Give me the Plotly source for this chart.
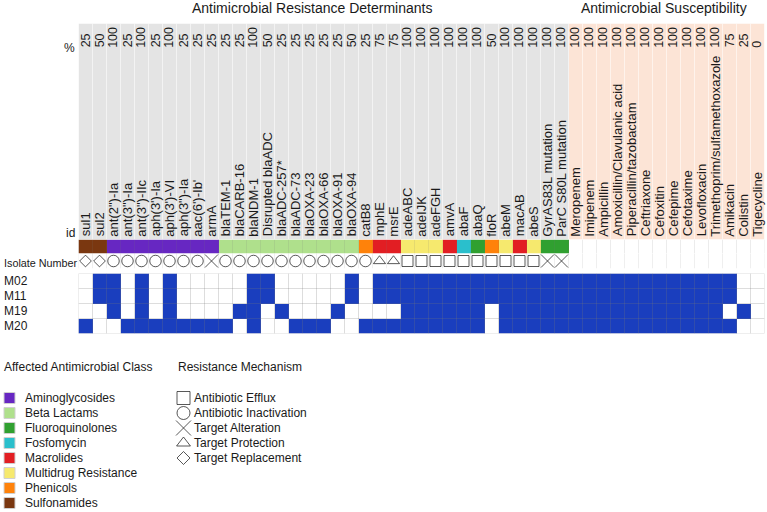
import plotly.graph_objects as go

W, H = 767, 512

# ---------------- data ----------------
determinants = ["sul1", "sul2", "ant(2\")-Ia", "ant(3\")-Ia", "ant(3\")-IIc", "aph(3')-Ia", "aph(3')-VI",
                "aph(3\")-Ia", "aac(6')-Ib'", "armA", "blaTEM-1", "blaCARB-16", "blaNDM-1", "Disrupted blaADC",
                "blaADC-257*", "blaADC-73", "blaOXA-23", "blaOXA-66", "blaOXA-91", "blaOXA-94", "catB8", "mphE",
                "msrE", "adeABC", "adeIJK", "adeFGH", "amvA", "abaF", "abaQ", "floR", "abeM", "macAB", "abeS",
                "GyrAS83L mutation", "ParC S80L mutation"]
det_percent = [25, 50, 100, 25, 100, 25, 100, 25, 25, 25,
               25, 25, 100, 50, 25, 25, 25, 25, 25, 50,
               25, 75, 75, 100, 100, 100, 100, 100, 100, 50,
               100, 100, 100, 100, 100]
det_class = ["Sulfonamides", "Sulfonamides",
             "Aminoglycosides", "Aminoglycosides", "Aminoglycosides", "Aminoglycosides",
             "Aminoglycosides", "Aminoglycosides", "Aminoglycosides", "Aminoglycosides",
             "Beta Lactams", "Beta Lactams", "Beta Lactams", "Beta Lactams", "Beta Lactams",
             "Beta Lactams", "Beta Lactams", "Beta Lactams", "Beta Lactams", "Beta Lactams",
             "Phenicols", "Macrolides", "Macrolides", "Multidrug Resistance", "Multidrug Resistance",
             "Multidrug Resistance", "Macrolides", "Fosfomycin", "Fluoroquinolones", "Phenicols",
             "Multidrug Resistance", "Macrolides", "Multidrug Resistance", "Fluoroquinolones",
             "Fluoroquinolones"]
det_mechanism = ["Target Replacement", "Target Replacement",
                 "Antibiotic Inactivation", "Antibiotic Inactivation", "Antibiotic Inactivation",
                 "Antibiotic Inactivation", "Antibiotic Inactivation", "Antibiotic Inactivation",
                 "Antibiotic Inactivation", "Target Alteration",
                 "Antibiotic Inactivation", "Antibiotic Inactivation", "Antibiotic Inactivation",
                 "Antibiotic Inactivation", "Antibiotic Inactivation", "Antibiotic Inactivation",
                 "Antibiotic Inactivation", "Antibiotic Inactivation", "Antibiotic Inactivation",
                 "Antibiotic Inactivation", "Antibiotic Inactivation",
                 "Target Protection", "Target Protection",
                 "Antibiotic Efflux", "Antibiotic Efflux", "Antibiotic Efflux", "Antibiotic Efflux",
                 "Antibiotic Efflux", "Antibiotic Efflux", "Antibiotic Efflux", "Antibiotic Efflux",
                 "Antibiotic Efflux", "Antibiotic Efflux",
                 "Target Alteration", "Target Alteration"]

drugs = ["Meropenem", "Imipenem", "Ampicillin", "Amoxicillin/Clavulanic acid", "Piperacillin/tazobactam",
         "Ceftriaxone", "Cefoxitin", "Cefepime", "Cefotaxime", "Levofloxacin",
         "Trimethoprim/sulfamethoxazole", "Amikacin", "Colistin", "Tigecycline"]
drug_percent = [100, 100, 100, 100, 100, 100, 100, 100, 100, 100, 100, 75, 25, 0]

isolates = ["M02", "M11", "M19", "M20"]
# presence (1) / absence (0) per column: 35 determinants followed by 14 antimicrobials (resistant)
M02 = [0, 1, 1, 0, 1, 0, 1, 0, 0, 0, 0, 0, 1, 1, 0, 0, 0, 0, 0, 1, 0, 1, 1, 1, 1, 1, 1, 1, 1, 1,
       1, 1, 1, 1, 1, 1, 1, 1, 1, 1, 1, 1, 1, 1, 1, 1, 1, 0, 0]
M11 = [0, 1, 1, 0, 1, 0, 1, 0, 0, 0, 0, 0, 1, 1, 0, 0, 0, 0, 0, 1, 0, 1, 1, 1, 1, 1, 1, 1, 1, 1,
       1, 1, 1, 1, 1, 1, 1, 1, 1, 1, 1, 1, 1, 1, 1, 1, 1, 0, 0]
M19 = [0, 0, 1, 0, 1, 0, 1, 0, 0, 0, 0, 1, 1, 0, 1, 0, 0, 0, 1, 0, 0, 0, 0, 1, 1, 1, 1, 1, 1, 0,
       1, 1, 1, 1, 1, 1, 1, 1, 1, 1, 1, 1, 1, 1, 1, 1, 0, 1, 0]
M20 = [1, 0, 0, 1, 1, 1, 1, 1, 1, 1, 1, 0, 1, 0, 0, 1, 1, 1, 0, 0, 1, 1, 1, 1, 1, 1, 1, 1, 1, 0,
       1, 1, 1, 1, 1, 1, 1, 1, 1, 1, 1, 1, 1, 1, 1, 1, 1, 0, 0]
presence = [M02, M11, M19, M20]

class_names = ["Aminoglycosides", "Beta Lactams", "Fluoroquinolones", "Fosfomycin", "Macrolides",
               "Multidrug Resistance", "Phenicols", "Sulfonamides"]
mechanism_names = ["Antibiotic Efflux", "Antibiotic Inactivation", "Target Alteration",
                   "Target Protection", "Target Replacement"]

# ---------------- styles ----------------
FONT = "Arial, Liberation Sans, sans-serif"
BLUE = "#1a3ebe"
HEAD_GRAY = "#e4e4e4"
HEAD_PEACH = "#fce4d6"
class_colors = {"Aminoglycosides": "#6727c2", "Beta Lactams": "#afe08c", "Fluoroquinolones": "#30a030",
                "Fosfomycin": "#2abfcc", "Macrolides": "#e21e23", "Multidrug Resistance": "#f6e96e",
                "Phenicols": "#ff820a", "Sulfonamides": "#7a3710"}
mech_symbol = {"Antibiotic Efflux": "square-open", "Antibiotic Inactivation": "circle-open",
               "Target Alteration": "x-thin-open", "Target Protection": "triangle-up-open",
               "Target Replacement": "diamond-open"}
mech_size = {"Antibiotic Efflux": 11, "Antibiotic Inactivation": 11.5, "Target Alteration": 13,
             "Target Protection": 10.5, "Target Replacement": 9}
mech_leg_size = {"Antibiotic Efflux": 13, "Antibiotic Inactivation": 13, "Target Alteration": 15,
                 "Target Protection": 12, "Target Replacement": 10}

columns = determinants + drugs
n = len(columns)
nd = len(determinants)
xs = list(range(n))


def px(v):
    return v / W


def py(v):
    return 1 - v / H


X0, CW = 78.5, 14.0
x_dom = [px(X0), px(X0 + CW * n)]
heat_dom = [py(333.5), py(273.5)]
sym_dom = [py(268.5), py(253.5)]
id_dom = [py(253.5), py(239.5)]
head_dom = [py(239.5), py(23.5)]
leg_dom = [0, py(380)]

fig = go.Figure()

# header background
fig.add_trace(go.Heatmap(z=[[0] * nd + [1] * len(drugs)], x=xs, y=[0.5], xaxis="x", yaxis="y4",
                         colorscale=[[0, HEAD_GRAY], [1, HEAD_PEACH]], zmin=0, zmax=1,
                         showscale=False, hoverinfo="skip"))

# id colour bar
cidx = [class_names.index(c) for c in det_class] + [None] * len(drugs)
ncls = len(class_names)
cs = []
for i, c in enumerate(class_names):
    lo = max(0.0, (i - 0.5) / (ncls - 1))
    hi = min(1.0, (i + 0.5) / (ncls - 1))
    cs += [[lo, class_colors[c]], [hi, class_colors[c]]]
fig.add_trace(go.Heatmap(z=[cidx], x=xs, y=[0], xaxis="x", yaxis="y3", colorscale=cs,
                         zmin=0, zmax=ncls - 1, showscale=False, hoverinfo="skip"))

# mechanism symbols
fig.add_trace(go.Scatter(x=list(range(nd)), y=[0] * nd, xaxis="x", yaxis="y2", mode="markers",
                         marker=dict(symbol=[mech_symbol[m] for m in det_mechanism],
                                     size=[mech_size[m] for m in det_mechanism],
                                     color="#111111", line=dict(width=1)),
                         showlegend=False, hoverinfo="skip"))

# presence heatmap
fig.add_trace(go.Heatmap(z=presence, x=xs, y=list(range(len(isolates))), xaxis="x", yaxis="y",
                         colorscale=[[0, "white"], [1, BLUE]], zmin=0, zmax=1,
                         showscale=False, hoverinfo="skip"))


def grid(yaxis, y0, y1, rows, color, width=1):
    gx, gy = [], []
    for k in range(n + 1):
        gx += [k - 0.5, k - 0.5, None]
        gy += [y0, y1, None]
    for r in rows:
        gx += [-0.5, n - 0.5, None]
        gy += [r, r, None]
    fig.add_trace(go.Scatter(x=gx, y=gy, xaxis="x", yaxis=yaxis, mode="lines",
                             line=dict(color=color, width=width), showlegend=False,
                             hoverinfo="skip"))


nr = len(isolates)
grid("y", -0.5, nr - 0.5, [r - 0.5 for r in range(nr + 1)], "rgba(120,120,120,0.25)")
grid("y2", -0.5, 0.5, [], "rgba(120,120,120,0.12)")
grid("y3", -0.5, 0.5, [], "rgba(120,120,120,0.14)")
grid("y4", 0, 1, [], "rgba(255,255,255,0.55)")

# legend (manual)
fig.add_trace(go.Scatter(x=[9.5] * ncls, y=list(range(ncls)), xaxis="x2", yaxis="y5", mode="markers",
                         marker=dict(symbol="square", size=11,
                                     color=[class_colors[c] for c in class_names],
                                     line=dict(color="#d0d0d0", width=1)),
                         showlegend=False, hoverinfo="skip"))
fig.add_trace(go.Scatter(x=[183.5] * len(mechanism_names), y=list(range(len(mechanism_names))),
                         xaxis="x2", yaxis="y5", mode="markers",
                         marker=dict(symbol=[mech_symbol[m] for m in mechanism_names],
                                     size=[mech_leg_size[m] for m in mechanism_names],
                                     color="#111111", line=dict(width=1)),
                         showlegend=False, hoverinfo="skip"))

ann = []
TXT = "#1a1a1a"
for i, name in enumerate(columns):
    ann.append(dict(x=i, y=0.004, xref="x", yref="y4", text=name, showarrow=False, textangle=-90,
                    xanchor="center", yanchor="bottom", font=dict(size=13, family=FONT, color=TXT)))
for i, v in enumerate(det_percent + drug_percent):
    ann.append(dict(x=i, y=0.878, xref="x", yref="y4", text=str(v), showarrow=False, textangle=-90,
                    xanchor="center", yanchor="bottom", font=dict(size=12.5, family=FONT, color=TXT)))

ann.append(dict(x=px(77), y=py(48), xref="paper", yref="paper", text="%", showarrow=False,
                xanchor="right", yanchor="middle", font=dict(size=12, family=FONT, color=TXT)))
ann.append(dict(x=px(77), y=py(233), xref="paper", yref="paper", text="id", showarrow=False,
                xanchor="right", yanchor="middle", font=dict(size=12, family=FONT, color=TXT)))
ann.append(dict(x=px(2), y=py(263), xref="paper", yref="paper", text="Isolate Number", showarrow=False,
                xanchor="left", yanchor="middle", font=dict(size=10.8, family=FONT, color=TXT)))
for r, name in enumerate(isolates):
    ann.append(dict(x=px(2), y=r, xref="paper", yref="y", text=name, showarrow=False,
                    xanchor="left", yanchor="middle", font=dict(size=12, family=FONT, color=TXT)))

ann.append(dict(x=px(312), y=py(8), xref="paper", yref="paper", text="Antimicrobial Resistance Determinants",
                showarrow=False, xanchor="center", yanchor="middle", font=dict(size=14, family=FONT, color=TXT)))
ann.append(dict(x=px(664), y=py(8), xref="paper", yref="paper", text="Antimicrobial Susceptibility",
                showarrow=False, xanchor="center", yanchor="middle", font=dict(size=14, family=FONT, color=TXT)))

ann.append(dict(x=px(2), y=py(367), xref="paper", yref="paper", text="Affected Antimicrobial Class",
                showarrow=False, xanchor="left", yanchor="middle", font=dict(size=12, family=FONT, color=TXT)))
ann.append(dict(x=px(176), y=py(367), xref="paper", yref="paper", text="Resistance Mechanism",
                showarrow=False, xanchor="left", yanchor="middle", font=dict(size=12, family=FONT, color=TXT)))
for i, c in enumerate(class_names):
    ann.append(dict(x=23, y=i, xref="x2", yref="y5", text=c, showarrow=False,
                    xanchor="left", yanchor="middle", font=dict(size=12, family=FONT, color=TXT)))
for i, m in enumerate(mechanism_names):
    ann.append(dict(x=192, y=i, xref="x2", yref="y5", text=m, showarrow=False,
                    xanchor="left", yanchor="middle", font=dict(size=12, family=FONT, color=TXT)))

hidden = dict(visible=False, fixedrange=True)
fig.update_layout(
    width=W, height=H, margin=dict(l=0, r=0, t=0, b=0),
    paper_bgcolor="white", plot_bgcolor="rgba(0,0,0,0)", showlegend=False,
    xaxis=dict(domain=x_dom, range=[-0.5, n - 0.5], anchor="y", **hidden),
    yaxis=dict(domain=heat_dom, range=[nr - 0.5, -0.5], anchor="x", **hidden),
    yaxis2=dict(domain=sym_dom, range=[-0.5, 0.5], anchor="x", **hidden),
    yaxis3=dict(domain=id_dom, range=[-0.5, 0.5], anchor="x", **hidden),
    yaxis4=dict(domain=head_dom, range=[0, 1], anchor="x", **hidden),
    xaxis2=dict(domain=[0, 1], range=[0, W], anchor="y5", **hidden),
    yaxis5=dict(domain=leg_dom, range=[(512 - 398) / 15, (380 - 398) / 15], anchor="x2", **hidden),
    annotations=ann,
    font=dict(family=FONT),
)

fig.write_html("out.html", config={"displayModeBar": False},
               post_script="document.body.style.margin='0px';document.body.style.overflow='hidden';")
